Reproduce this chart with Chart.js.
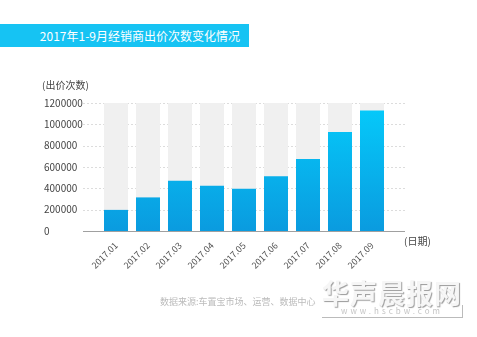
<!DOCTYPE html>
<html>
<head>
<meta charset="utf-8">
<script src="https://cdn.jsdelivr.net/npm/chart.js@4/dist/chart.umd.min.js"></script>
<style>
  body { margin: 0; background: #fff; font-family: "Noto Sans CJK SC", sans-serif; }
  .page { position: relative; width: 477px; height: 337px; overflow: hidden; }
  .wrap { position: absolute; left: 0; top: 0; width: 477px; height: 337px; }
  .banner { position: absolute; left: 0; top: 24px; width: 249px; height: 23px; background: #16c3f3;
            color: #fff; font-size: 12px; line-height: 23px; text-align: right; padding-right: 9px; box-sizing: border-box; }
  .ytitle { position: absolute; left: 42px; top: 77px; font-size: 10px; color: #444; }
  .xtitle { position: absolute; left: 404px; top: 233px; font-size: 10px; color: #444; }
  .source { position: absolute; left: 160px; top: 295px; font-size: 9px; color: #bbb; }
  .mark { position: absolute; left: 322px; top: 273px; font-size: 27px; font-weight: bold;
          color: #f6f6f6; text-shadow: 1px 1px 1px #9a9a9a; letter-spacing: 1px; }
  .url { position: absolute; left: 322px; top: 305px; width: 140px; height: 12px; border-bottom: 1px solid #bbb;
         border-right: 1px solid #bbb; font-size: 8px; line-height: 12px; color: #c4c4c4; text-align: center; letter-spacing: 3px; }
</style>
</head>
<body>
<div class="page">
  <div class="wrap"><canvas id="chart"></canvas></div>
  <div class="banner">2017年1-9月经销商出价次数变化情况</div>
  <div class="ytitle">(出价次数)</div>
  <div class="xtitle">(日期)</div>
  <div class="source">数据来源:车置宝市场、运营、数据中心</div>
  <div class="mark">华声晨报网</div>
  <div class="url">www.hscbw.com</div>
</div>
<script>
const months = ['2017.01', '2017.02', '2017.03', '2017.04', '2017.05', '2017.06', '2017.07', '2017.08', '2017.09'];
const bidCounts = [198000, 315000, 472000, 425000, 397000, 513000, 674000, 929000, 1130000];
const yMax = 1200000;
const yStep = 200000;

// dashed guide lines, a bit wider than the plot, plus the solid base line
const guideLines = {
  id: 'guideLines',
  beforeDatasetsDraw(chart) {
    const {ctx, chartArea, scales: {y}} = chart;
    ctx.save();
    ctx.strokeStyle = '#dcdcdc';
    ctx.setLineDash([2, 2]);
    y.ticks.forEach(t => {
      if (t.value === 0) return;
      const py = Math.round(y.getPixelForValue(t.value)) + 0.5;
      ctx.beginPath();
      ctx.moveTo(chartArea.left - 17, py);
      ctx.lineTo(chartArea.right + 18, py);
      ctx.stroke();
    });
    ctx.restore();
  },
  afterDatasetsDraw(chart) {
    const {ctx, chartArea, scales: {y}} = chart;
    const py = Math.round(y.getPixelForValue(0)) + 0.5;
    ctx.save();
    ctx.strokeStyle = '#a0a0a0';
    ctx.beginPath();
    ctx.moveTo(chartArea.left - 17, py);
    ctx.lineTo(chartArea.right + 17, py);
    ctx.stroke();
    ctx.restore();
  }
};

function barGradient(context) {
  const {ctx, chartArea} = context.chart;
  if (!chartArea) return '#10b0ec';
  const g = ctx.createLinearGradient(0, chartArea.bottom, 0, chartArea.top);
  g.addColorStop(0, '#0a9bdf');
  g.addColorStop(1, '#05cbfb');
  return g;
}

new Chart(document.getElementById('chart'), {
  type: 'bar',
  data: {
    labels: months,
    datasets: [
      {
        label: '出价次数',
        data: bidCounts,
        backgroundColor: barGradient,
        grouped: false,
        order: 1
      },
      {
        label: 'track',
        data: months.map(() => yMax),
        backgroundColor: '#f0f0f0',
        grouped: false,
        order: 2
      }
    ]
  },
  options: {
    responsive: true,
    maintainAspectRatio: false,
    animation: false,
    events: [],
    layout: { padding: { left: 44, top: 103, right: 89, bottom: 66 } },
    datasets: { bar: { barPercentage: 0.75, categoryPercentage: 1 } },
    plugins: { legend: { display: false }, tooltip: { enabled: false } },
    scales: {
      x: {
        grid: { display: false, drawTicks: false },
        border: { display: false },
        afterFit(scale) { scale.height = 40; },
        ticks: {
          maxRotation: 45, minRotation: 45, padding: 9,
          color: '#555',
          font: { family: '"Noto Sans CJK SC", sans-serif', size: 9 }
        }
      },
      y: {
        min: 0, max: yMax,
        grid: { display: false, drawTicks: false },
        border: { display: false },
        afterFit(scale) { scale.width = 56; },
        ticks: {
          stepSize: yStep,
          crossAlign: 'far',
          color: '#444',
          font: { family: '"Noto Sans CJK SC", sans-serif', size: 10 },
          callback: v => String(v)
        }
      }
    }
  },
  plugins: [guideLines]
});
</script>
</body>
</html>
